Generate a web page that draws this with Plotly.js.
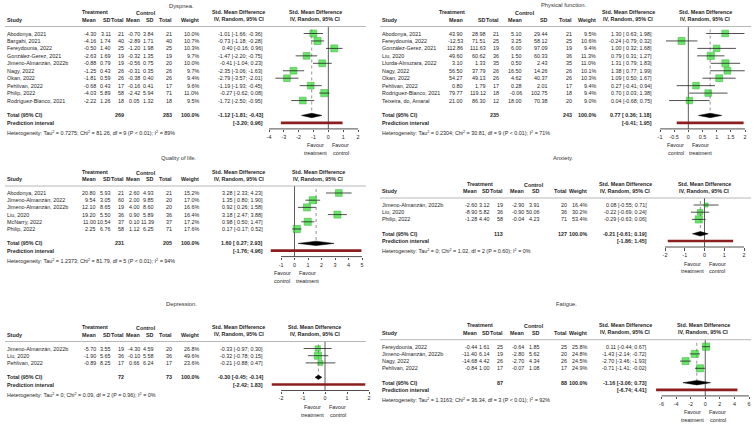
<!DOCTYPE html>
<html><head><meta charset="utf-8">
<script src="https://cdn.plot.ly/plotly-3.0.1.min.js"></script>
<style>html,body{margin:0;padding:0;background:#fff}#chart{width:753px;height:428px}</style>
</head><body><div id="chart"></div>
<script>
// ---------------- DATA ----------------
const dysStudy = ['Abodonya, 2021','Bargahi, 2021','Fereydounia, 2022','González-Gerez, 2021','Jimeno-Almanzán, 2022b','Nagy, 2022','Okan, 2022','Pehlivan, 2022','Philip, 2022','Rodríguez-Blanco, 2021'];
const dysTMean = [-4.30,-4.16,-0.50,-2.63,-0.88,-1.25,-1.81,-0.68,-4.03,-2.22];
const dysTSD = [3.11,1.74,1.40,1.69,0.79,0.43,0.59,0.43,5.89,1.26];
const dysTN = [21,40,25,19,19,26,26,17,58,18];
const dysCMean = [-0.70,-2.89,-1.20,-0.32,-0.56,-0.31,-0.38,-0.16,-2.42,0.05];
const dysCSD = [3.84,1.71,1.98,1.35,0.75,0.35,0.40,0.41,5.94,1.32];
const dysCN = [21,40,25,19,20,26,26,17,71,18];
const dysWeight = [10.0,10.7,10.3,9.7,10.0,9.7,9.4,9.6,11.0,9.5];
const dysSMD = [-1.01,-0.73,0.40,-1.47,-0.41,-2.35,-2.79,-1.19,-0.27,-1.72];
const dysLow = [-1.66,-1.18,-0.16,-2.20,-1.04,-3.06,-3.57,-1.93,-0.62,-2.50];
const dysHigh = [-0.36,-0.28,0.96,-0.75,0.23,-1.63,-2.01,-0.45,0.08,-0.95];
const dysTotals = [269,283];
const dysPooled = [-1.12,-1.81,-0.43];
const dysPI = [-3.20,0.96];
const dysHet = 'Heterogeneity: Tau<sup>2</sup> = 0.7275; Chi<sup>2</sup> = 81.26, df = 9 (P &lt; 0.01); I<sup>2</sup> = 89%';
const dysTicks = [-4,-3,-2,-1,0,1,2];

const pfStudy = ['Abodonya, 2021','Fereydounia, 2022','González-Gerez, 2021','Liu, 2020','Llurda-Almuzara, 2022','Nagy, 2022','Okan, 2022','Pehlivan, 2022','Rodríguez-Blanco, 2021','Teixeira, do, Amaral'];
const pfTMean = [43.90,-12.53,112.86,49.60,3.10,56.50,54.27,0.80,79.77,21.00];
const pfTSD = [28.98,71.51,111.63,60.62,1.33,37.79,49.13,1.79,119.12,86.30];
const pfTN = [21,25,19,36,35,26,26,17,18,12];
const pfCMean = [5.10,3.25,6.00,1.50,0.50,16.50,4.62,0.28,-0.06,18.00];
const pfCSD = [29.44,58.12,97.09,60.33,2.43,14.26,40.37,2.01,102.75,70.38];
const pfCN = [21,25,19,36,35,26,26,17,18,20];
const pfWeight = [9.5,10.6,9.4,11.3,11.0,10.1,10.3,9.4,9.4,9.0];
const pfSMD = [1.30,-0.24,1.00,0.79,1.31,1.38,1.09,0.27,0.70,0.04];
const pfLow = [0.63,-0.79,0.32,0.31,0.79,0.77,0.50,-0.41,0.03,-0.68];
const pfHigh = [1.98,0.32,1.68,1.27,1.83,1.99,1.67,0.94,1.38,0.75];
const pfTotals = [235,243];
const pfPooled = [0.77,0.36,1.18];
const pfPI = [-0.41,1.95];
const pfHet = 'Heterogeneity: Tau<sup>2</sup> = 0.2304; Chi<sup>2</sup> = 30.81, df = 9 (P &lt; 0.01); I<sup>2</sup> = 71%';
const pfTicks = [-1,-0.5,0,0.5,1,1.5,2];

const qolStudy = ['Abodonya, 2021','Jimeno-Almanzán, 2022','Jimeno-Almanzán, 2022b','Liu, 2020','McNarry, 2022','Philip, 2022'];
const qolTMean = [20.80,9.54,12.10,19.20,11.00,2.25];
const qolTSD = [5.93,3.05,8.65,5.50,10.54,6.76];
const qolTN = [21,60,19,36,37,58];
const qolCMean = [2.60,2.00,4.00,0.90,0.10,1.12];
const qolCSD = [4.93,9.85,8.60,5.89,11.39,6.25];
const qolCN = [21,20,20,36,37,71];
const qolWeight = [15.2,17.0,16.6,16.4,17.2,17.6];
const qolSMD = [3.28,1.35,0.92,3.18,0.98,0.17];
const qolLow = [2.33,0.80,0.26,2.47,0.50,-0.17];
const qolHigh = [4.23,1.90,1.58,3.88,1.47,0.52];
const qolTotals = [231,205];
const qolPooled = [1.60,0.27,2.93];
const qolPI = [-1.76,4.96];
const qolHet = 'Heterogeneity: Tau<sup>2</sup> = 1.2373; Chi<sup>2</sup> = 81.79, df = 5 (P &lt; 0.01); I<sup>2</sup> = 94%';
const qolTicks = [-1,0,1,2,3,4,5];

const anxStudy = ['Jimeno-Almanzán, 2022b','Liu, 2020','Philip, 2022'];
const anxTMean = [-2.60,-8.90,-1.28];
const anxTSD = [3.12,5.82,4.40];
const anxTN = [19,36,58];
const anxCMean = [-2.90,-0.90,-0.04];
const anxCSD = [3.91,50.06,4.23];
const anxCN = [20,36,71];
const anxWeight = [16.4,30.2,53.4];
const anxSMD = [0.08,-0.22,-0.29];
const anxLow = [-0.55,-0.69,-0.63];
const anxHigh = [0.71,0.24,0.06];
const anxTotals = [113,127];
const anxPooled = [-0.21,-0.61,0.19];
const anxPI = [-1.86,1.45];
const anxHet = 'Heterogeneity: Tau<sup>2</sup> = 0; Chi<sup>2</sup> = 1.02, df = 2 (P = 0.60); I<sup>2</sup> = 0%';
const anxTicks = [-2,-1,0,1,2];

const depStudy = ['Jimeno-Almanzán, 2022b','Liu, 2020','Pehlivan, 2022'];
const depTMean = [-5.70,-1.90,-0.89];
const depTSD = [3.55,5.65,8.25];
const depTN = [19,36,17];
const depCMean = [-4.30,-0.10,0.66];
const depCSD = [4.59,5.58,6.24];
const depCN = [20,36,17];
const depWeight = [26.8,49.6,23.6];
const depSMD = [-0.33,-0.32,-0.21];
const depLow = [-0.97,-0.78,-0.88];
const depHigh = [0.30,0.15,0.47];
const depTotals = [72,73];
const depPooled = [-0.30,-0.45,-0.14];
const depPI = [-2.42,1.83];
const depHet = 'Heterogeneity: Tau<sup>2</sup> = 0; Chi<sup>2</sup> = 0.09, df = 2 (P = 0.96); I<sup>2</sup> = 0%';
const depTicks = [-2,-1,0,1,2];

const fatStudy = ['Fereydounia, 2022','Jimeno-Almanzán, 2022b','Nagy, 2022','Pehlivan, 2022'];
const fatTMean = [-0.44,-11.40,-14.68,-0.84];
const fatTSD = [1.61,6.14,4.42,1.00];
const fatTN = [25,19,26,17];
const fatCMean = [-0.64,-2.80,-2.70,-0.07];
const fatCSD = [1.85,5.62,4.34,1.08];
const fatCN = [25,20,26,17];
const fatWeight = [25.8,24.8,24.5,24.9];
const fatSMD = [0.11,-1.43,-2.70,-0.71];
const fatLow = [-0.44,-2.14,-3.46,-1.41];
const fatHigh = [0.67,-0.72,-1.93,-0.02];
const fatTotals = [87,88];
const fatPooled = [-1.16,-3.06,0.73];
const fatPI = [-6.74,4.41];
const fatHet = 'Heterogeneity: Tau<sup>2</sup> = 1.3163; Chi<sup>2</sup> = 36.34, df = 3 (P &lt; 0.01); I<sup>2</sup> = 92%';
const fatTicks = [-6,-4,-2,0,2,4,6];

// ---------------- LAYOUT CONFIG ----------------
const W = 753, H = 428;
const FONT = 'Liberation Sans, Arial, sans-serif';
const FS = 5.4;
const TXT = '#1e1e1e';

const LC = {study:7, tMean:96, tSD:110.5, tTot:124, cMean:139.5, cSD:154, cTot:172, weight:199, smd:263, smdHdr:238.5, trtHdr:95, ctlHdr:146, lineL:5, lineR:366};
const PC = {study:382, tMean:462.5, tSD:485.5, tTot:499, cMean:521.5, cSD:548, cTot:571.5, weight:596, smd:652, smdHdr:628, trtHdr:452, ctlHdr:525, lineL:380, lineR:751};
const AC = {study:382, tMean:477, tSD:490, tTot:503.5, cMean:524, cSD:539.5, cTot:567, weight:587, smd:647, smdHdr:625, trtHdr:480, ctlHdr:534, lineL:380, lineR:751};

const panels = [
 {title:'Dyspnea.', tx:181, ty:6, cols:LC, first:33.5, s:7.45, plotHdr:315, ticks:dysTicks, p0:269, p1:358, favL:'treatment', favR:'control',
  study:dysStudy,tMean:dysTMean,tSD:dysTSD,tN:dysTN,cMean:dysCMean,cSD:dysCSD,cN:dysCN,w:dysWeight,smd:dysSMD,lo:dysLow,hi:dysHigh,tot:dysTotals,pooled:dysPooled,pi:dysPI,het:dysHet},
 {title:'Physical function.', tx:563, ty:5.5, cols:PC, first:33.5, s:7.45, plotHdr:705, ticks:pfTicks, p0:660, p1:745, favL:'control', favR:'treatment',
  study:pfStudy,tMean:pfTMean,tSD:pfTSD,tN:pfTN,cMean:pfCMean,cSD:pfCSD,cN:pfCN,w:pfWeight,smd:pfSMD,lo:pfLow,hi:pfHigh,tot:pfTotals,pooled:pfPooled,pi:pfPI,het:pfHet},
 {title:'Quality of life.', tx:179, ty:158, cols:LC, first:193, s:7.2, plotHdr:318, ticks:qolTicks, p0:281, p1:362, favL:'control', favR:'treatment',
  study:qolStudy,tMean:qolTMean,tSD:qolTSD,tN:qolTN,cMean:qolCMean,cSD:qolCSD,cN:qolCN,w:qolWeight,smd:qolSMD,lo:qolLow,hi:qolHigh,tot:qolTotals,pooled:qolPooled,pi:qolPI,het:qolHet},
 {title:'Anxiety.', tx:563, ty:158, cols:AC, first:205, s:7.2, plotHdr:704, ticks:anxTicks, p0:665, p1:744, favL:'treatment', favR:'control',
  study:anxStudy,tMean:anxTMean,tSD:anxTSD,tN:anxTN,cMean:anxCMean,cSD:anxCSD,cN:anxCN,w:anxWeight,smd:anxSMD,lo:anxLow,hi:anxHigh,tot:anxTotals,pooled:anxPooled,pi:anxPI,het:anxHet},
 {title:'Depression.', tx:181, ty:303.5, cols:LC, first:348.5, s:7.2, plotHdr:314.5, ticks:depTicks, p0:281, p1:369, favL:'treatment', favR:'control',
  study:depStudy,tMean:depTMean,tSD:depTSD,tN:depTN,cMean:depCMean,cSD:depCSD,cN:depCN,w:depWeight,smd:depSMD,lo:depLow,hi:depHigh,tot:depTotals,pooled:depPooled,pi:depPI,het:depHet},
 {title:'Fatigue.', tx:566, ty:304, cols:AC, first:346.7, s:7.2, plotHdr:703, ticks:fatTicks, p0:661.5, p1:749, favL:'treatment', favR:'control',
  study:fatStudy,tMean:fatTMean,tSD:fatTSD,tN:fatTN,cMean:fatCMean,cSD:fatCSD,cN:fatCN,w:fatWeight,smd:fatSMD,lo:fatLow,hi:fatHigh,tot:fatTotals,pooled:fatPooled,pi:fatPI,het:fatHet}
];

// ---------------- BUILD ----------------
const ann = [], shapes = [], traces = [];
const layout = {width:W, height:H, margin:{l:0,r:0,t:0,b:0}, paper_bgcolor:'#fff', plot_bgcolor:'rgba(0,0,0,0)', showlegend:false, annotations:ann, shapes:shapes, font:{family:FONT, size:FS, color:TXT}};

function txt(x, y, t, anchor, bold, size, color) {
  ann.push({xref:'paper', yref:'paper', x:x/W, y:1-y/H, text: bold ? '<b>'+t+'</b>' : t, showarrow:false,
    xanchor:anchor, yanchor:'middle', borderpad:0, borderwidth:0,
    font:{family:FONT, size:size||FS, color:color||TXT}});
}
function hline(x0, x1, y, color, width) {
  shapes.push({type:'line', xref:'paper', yref:'paper', x0:x0/W, x1:x1/W, y0:1-y/H, y1:1-y/H, line:{color:color, width:width}});
}
function f2(v){ return v.toFixed(2); }
function ciText(e,l,h){ return f2(e)+' ['+(l>=0?' ':'')+f2(l)+'; '+f2(h)+']'; }

panels.forEach((P, idx) => {
  const n = P.study.length, c = P.cols, s = P.s, f = P.first;
  const rowY = i => f + i*s;
  const totY = rowY(n+1), piY = rowY(n+2), axisY = piY + 6;
  const hdrLine = f - 7;

  txt(P.tx, P.ty, P.title, 'center', false, 5.8, '#333');
  txt(c.trtHdr, f-21.5, 'Treatment', 'center', true);
  txt(c.ctlHdr, f-20.5, 'Control', 'center', true);
  txt(c.smdHdr, f-21.3, 'Std. Mean Difference', 'center', true);
  txt(c.smdHdr, f-14.3, 'IV, Random, 95% CI', 'center', true);
  txt(P.plotHdr, f-21.3, 'Std. Mean Difference', 'center', true);
  txt(P.plotHdr, f-14.3, 'IV, Random, 95% CI', 'center', true);
  const hy = f - 14;
  txt(c.study, hy, 'Study', 'left', true);
  txt(c.tMean, hy, 'Mean', 'right', true);
  txt(c.tSD, hy, 'SD', 'right', true);
  txt(c.tTot, hy, 'Total', 'right', true);
  txt(c.cMean, hy, 'Mean', 'right', true);
  txt(c.cSD, hy, 'SD', 'right', true);
  txt(c.cTot, hy, 'Total', 'right', true);
  txt(c.weight, hy, 'Weight', 'right', true);
  hline(c.lineL, c.lineR, hdrLine, '#9a9a9a', 0.7);

  for (let i = 0; i < n; i++) {
    const y = rowY(i);
    txt(c.study, y, P.study[i], 'left');
    txt(c.tMean, y, f2(P.tMean[i]), 'right');
    txt(c.tSD, y, f2(P.tSD[i]), 'right');
    txt(c.tTot, y, String(P.tN[i]), 'right');
    txt(c.cMean, y, f2(P.cMean[i]), 'right');
    txt(c.cSD, y, f2(P.cSD[i]), 'right');
    txt(c.cTot, y, String(P.cN[i]), 'right');
    txt(c.weight, y, P.w[i].toFixed(1)+'%', 'right');
    txt(c.smd, y, ciText(P.smd[i], P.lo[i], P.hi[i]), 'right');
  }
  txt(c.study, totY, 'Total (95% CI)', 'left', true);
  txt(c.tTot, totY, String(P.tot[0]), 'right', true);
  txt(c.cTot, totY, String(P.tot[1]), 'right', true);
  txt(c.weight, totY, '100.0%', 'right', true);
  txt(c.smd, totY, ciText(P.pooled[0], P.pooled[1], P.pooled[2]), 'right', true);
  txt(c.study, piY, 'Prediction interval', 'left', true);
  txt(c.smd, piY, '['+f2(P.pi[0])+'; '+f2(P.pi[1])+']', 'right', true);
  txt(c.study, piY+10, P.het, 'left', false, 5.4);

  const tmin = P.ticks[0], tmax = P.ticks[P.ticks.length-1];
  const k = (P.p1 - P.p0)/(tmax - tmin);
  const d0 = Math.max(0, P.p0 - 14), d1 = Math.min(W, P.p1 + 14);
  const sfx = idx === 0 ? '' : String(idx+1);
  const xa = 'x'+sfx, ya = 'y'+sfx;
  const rTop = -7/s, rBot = (axisY - f)/s;
  layout['xaxis'+sfx] = {domain:[d0/W, d1/W], range:[tmin + (d0-P.p0)/k, tmin + (d1-P.p0)/k], anchor:ya,
    tickmode:'array', tickvals:P.ticks, ticktext:P.ticks.map(v=>String(v)), ticks:'outside', ticklen:2.5, tickwidth:0.8, tickcolor:'#222',
    showline:false, showgrid:false, zeroline:false, tickfont:{family:FONT, size:FS, color:TXT}, fixedrange:true};
  layout['yaxis'+sfx] = {domain:[1-axisY/H, 1-hdrLine/H], range:[rBot, rTop], anchor:xa, fixedrange:true,
    showticklabels:false, ticks:'', showgrid:false, zeroline:false, showline:false, tickmode:'array', tickvals:[]};
  hline(P.p0, P.p1, axisY, '#222', 0.8);

  const zeroPx = P.p0 + (0 - tmin)*k;
  txt(zeroPx - 12.5, axisY+16.5, 'Favour', 'center');
  txt(zeroPx - 12.5, axisY+24, P.favL, 'center');
  txt(zeroPx + 12.5, axisY+16.5, 'Favour', 'center');
  txt(zeroPx + 12.5, axisY+24, P.favR, 'center');

  const rows = P.study.map((_, i) => i);
  traces.push({type:'scatter', mode:'lines', x:[0,0], y:[rTop, rBot], xaxis:xa, yaxis:ya, line:{color:'#333', width:0.8}, hoverinfo:'skip'});
  const dh = 2.2/s;
  traces.push({type:'scatter', mode:'lines', x:[P.pooled[0], P.pooled[0]], y:[-4/s, n+1-dh], xaxis:xa, yaxis:ya, line:{color:'#777', width:0.8, dash:'dot'}, hoverinfo:'skip'});
  const wmax = Math.max(...P.w);
  traces.push({type:'scatter', mode:'markers', x:P.smd, y:rows, xaxis:xa, yaxis:ya,
    marker:{symbol:'square', size:P.w.map(w=>7.2*Math.sqrt(w/wmax)), color:'#22e022', line:{color:'#139013', width:0.6}}, hoverinfo:'skip'});
  const wx = [], wy = [];
  rows.forEach(i => { wx.push(P.lo[i], P.hi[i], null); wy.push(i, i, null); });
  traces.push({type:'scatter', mode:'lines', x:wx, y:wy, xaxis:xa, yaxis:ya, line:{color:'#222', width:0.8}, hoverinfo:'skip'});
  const tr = n+1;
  traces.push({type:'scatter', mode:'lines', x:[P.pooled[1], P.pooled[0], P.pooled[2], P.pooled[0], P.pooled[1]], y:[tr, tr-dh, tr, tr+dh, tr],
    xaxis:xa, yaxis:ya, fill:'toself', fillcolor:'#000', line:{color:'#000', width:0.5}, hoverinfo:'skip'});
  traces.push({type:'scatter', mode:'lines', x:[P.pi[0], P.pi[1]], y:[n+2, n+2], xaxis:xa, yaxis:ya, line:{color:'#8b1e1e', width:2.6}, hoverinfo:'skip'});
});

Plotly.newPlot('chart', traces, layout, {staticPlot:true, displayModeBar:false});
</script>
</body></html>
